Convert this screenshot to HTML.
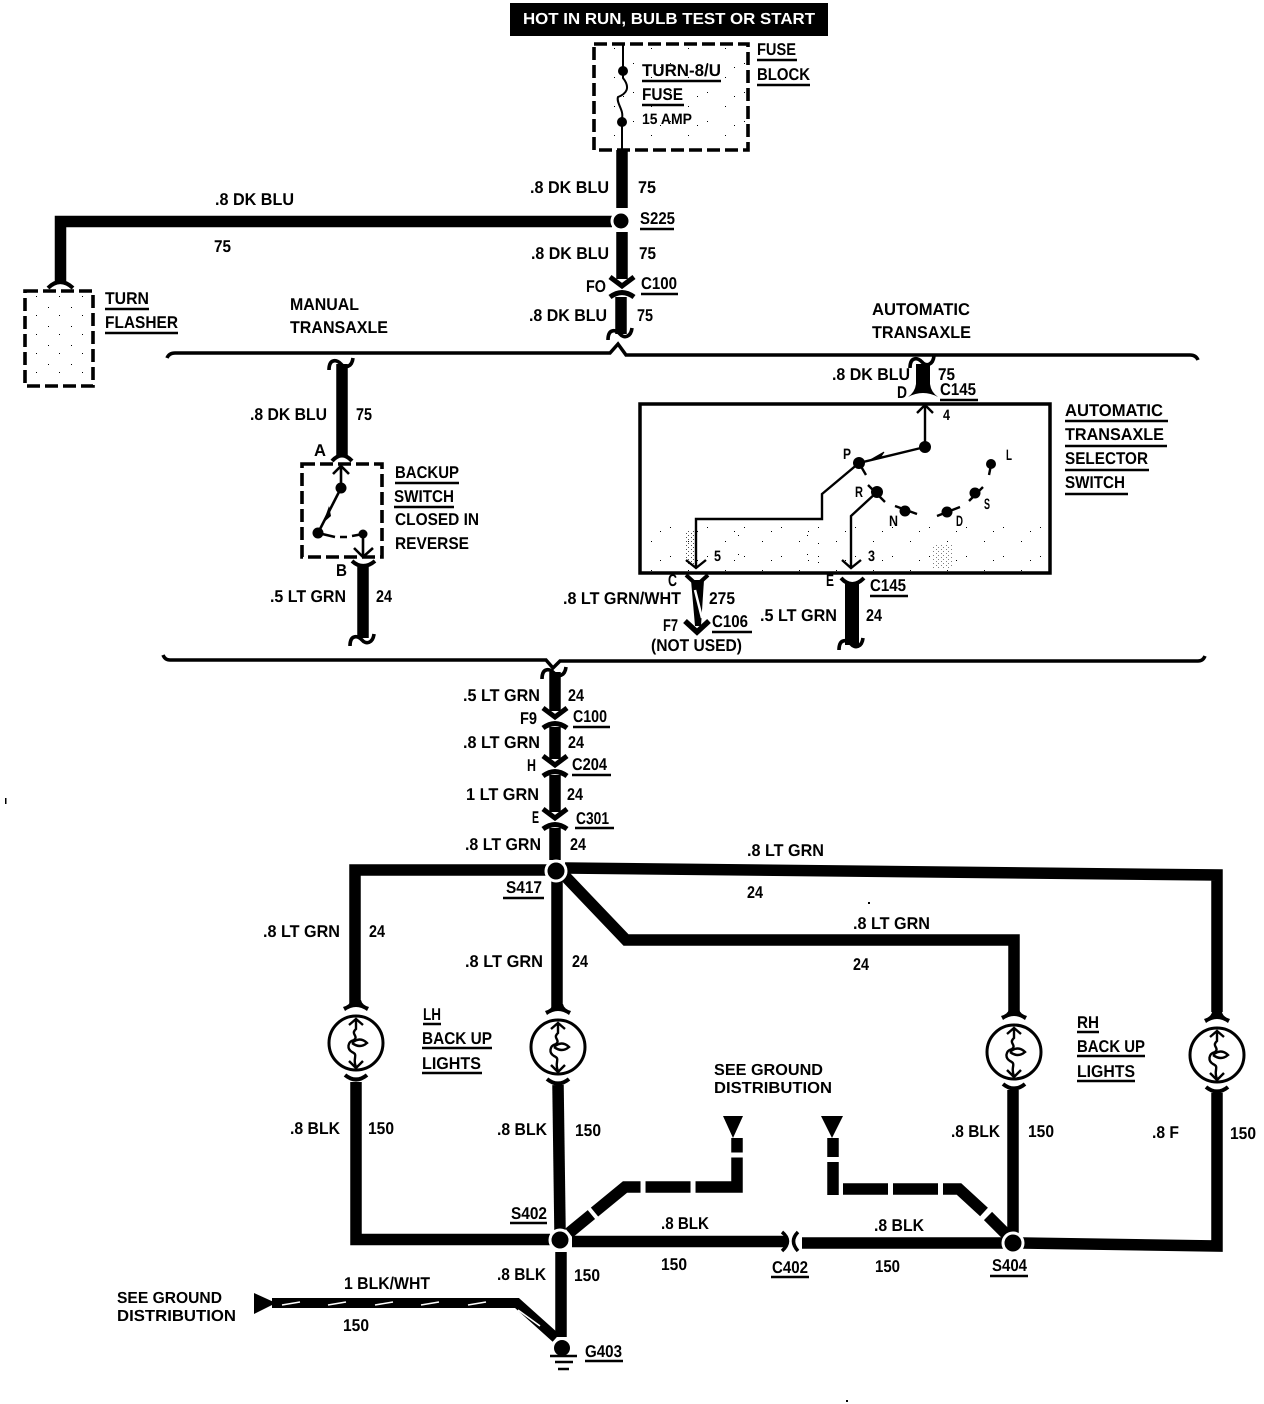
<!DOCTYPE html>
<html><head><meta charset="utf-8"><title>Back up lights wiring diagram</title>
<style>
html,body{margin:0;padding:0;background:#fff}
svg{display:block}
text{font-family:"Liberation Sans",sans-serif;font-weight:bold;font-size:17px;fill:#000}
.s{font-size:16px}
.n{font-size:15px}
</style></head><body>
<svg xmlns="http://www.w3.org/2000/svg" width="1264" height="1404" viewBox="0 0 1264 1404" text-rendering="geometricPrecision">
<defs>
<pattern id="st" width="23" height="19" patternUnits="userSpaceOnUse"><rect x="2" y="3" width="1" height="1" fill="#000"/><rect x="13" y="11" width="1" height="1" fill="#000"/></pattern>
<pattern id="sp" width="37" height="29" patternUnits="userSpaceOnUse"><rect x="4" y="5" width="1" height="1" fill="#000"/><rect x="22" y="19" width="1" height="1" fill="#000"/><rect x="31" y="9" width="1" height="1" fill="#000"/></pattern>
<pattern id="sd" width="5" height="4" patternUnits="userSpaceOnUse"><rect x="1" y="1" width="1" height="1" fill="#000"/><rect x="3" y="3" width="1" height="1" fill="#000"/></pattern>
<g id="j"><path d="M-12,-10 L0,-1 L12,-10" fill="none" stroke="#000" stroke-width="5"/><path d="M-12,10 Q0,1 12,10" fill="none" stroke="#000" stroke-width="5"/></g>
<path id="f" d="M-13,8 C-13,-3 -6,-3 -1,2 C3,7 10,5 11,-4" fill="none" stroke="#000" stroke-width="3.6"/>
<path id="ft" d="M-5,-43 Q-6,-38 -13,-36 L-11,-32 Q0,-40 11,-32 L13,-36 Q6,-38 5,-43 Z"/>
<path id="fb" d="M-11,32 Q0,41 11,32" fill="none" stroke="#000" stroke-width="4"/>
<g id="b"><circle r="27" fill="#fff" stroke="#000" stroke-width="3"/><path d="M0,-24 V-14 C-6,-9 3,-7 -2,-3 C-9,-1 -9,6 -4,9 C3,12 -4,15 0,24 M-7,-18 L0,-24 L7,-18 M-7,18 L0,25 L7,18 M-4,0 Q4,-7 11,0 Q4,6 -4,0" fill="none" stroke="#000" stroke-width="2.4"/></g>
</defs>
<rect width="1264" height="1404" fill="#fff"/>

<!-- header -->
<rect x="510" y="3" width="318" height="33" fill="#000"/>
<text x="523" y="24" textLength="292" lengthAdjust="spacingAndGlyphs" style="fill:#fff;font-size:16px">HOT IN RUN, BULB TEST OR START</text>

<!-- dashed boxes -->
<g fill="none" stroke="#000" stroke-width="3.6" stroke-dasharray="13 5">
<rect x="594" y="44" width="154" height="106"/>
<rect x="25" y="291" width="68" height="95"/>
<rect x="302" y="464" width="80" height="93"/>
</g>
<rect x="597" y="47" width="148" height="100" fill="url(#sp)"/>
<rect x="28" y="295" width="63" height="88" fill="url(#st)"/>

<!-- fuse -->
<path d="M623,44 V78 C631,88 626,94 618,97 C616,103 624,110 622,118 V152" fill="none" stroke="#000" stroke-width="2"/>
<circle cx="623" cy="71" r="5"/><circle cx="622" cy="122" r="5"/>

<!-- main heavy wires -->
<g fill="none" stroke="#000" stroke-width="11.5" stroke-linejoin="miter">
<path d="M622,150 V208"/>
<path d="M612,221.5 H60.5 V284"/>
<path d="M622,232 V279"/>
<path d="M621,297 V334"/>
<path d="M342,364 V456"/>
<path d="M363,566 V638"/>
<path d="M555,672 V711"/>
<path d="M555,727 V759"/>
<path d="M555,775 V812"/>
<path d="M555,828 V860"/>
<path d="M548,870 H355 V1006"/>
<path d="M565,868 L1217,875 V1012"/>
<path d="M557,880 V1010"/>
<path d="M563,874 L626,940 H1014 V1013"/>
<path d="M356,1082 V1239.5 H550"/>
<path d="M558,1085 L560,1230"/>
<path d="M572,1241.5 H786"/>
<path d="M802,1243 H1004"/>
<path d="M1013,1090 V1235"/>
<path d="M1022,1243 L1217,1246 V1093"/>
<path d="M561,1252 V1337"/>
</g>
<path d="M916,364 H930 V384 Q931,392 938,397 Q923,389 908,397 Q915,392 916,384 Z M845,584 H859 V645 H845 Z"/>
<path d="M691,580 H704 L701,626 H695 Z"/>
<path d="M695,590 L702,618" stroke="#fff" stroke-width="2.5"/>
<path d="M685,621 L697,632 L709,621" fill="none" stroke="#000" stroke-width="5.5"/>

<!-- dashed ground wires -->
<g fill="none" stroke="#000" stroke-width="11.5">
<path d="M569,1233 L625,1187 H737 V1138" stroke-dasharray="29 4 55 5 45 5 71 5 25"/>
<path d="M833,1138 V1157 M833,1162 V1195 M843,1189 H888 M893,1189 H938 M943,1189 H959 L984,1212 M988,1216 L1008,1236"/>
</g>
<path d="M723,1116 H743 L733,1138 Z M821,1116 H843 L832,1138 Z M254,1293 L276,1303 L254,1314 Z"/>

<!-- striped wire -->
<path d="M272,1303 H517 L556,1338" fill="none" stroke="#000" stroke-width="10"/>
<path d="M282,1305 L300,1302 M328,1305 L346,1302 M375,1305 L393,1302 M421,1305 L439,1302 M468,1305 L486,1302 M518,1310 L540,1326" stroke="#fff" stroke-width="1.6" fill="none"/>

<!-- nodes -->
<g stroke="#fff" stroke-width="3">
<circle cx="621" cy="221" r="9"/>
<circle cx="556" cy="871" r="10"/>
<circle cx="560" cy="1240" r="10"/>
<circle cx="1013" cy="1243" r="10"/>
</g>
<circle cx="562" cy="1348" r="8"/>
<path d="M550,1356 H577 M555,1362 H573 M558,1369 H569" stroke="#000" stroke-width="2.5"/>

<!-- brackets -->
<path d="M167,358 Q169,353 175,353 H610 L618,344 L626,355 H1190 Q1196,355 1198,360" fill="none" stroke="#000" stroke-width="3.5"/>
<path d="M163,655 Q165,660 170,660 H546 L553,668 L560,661 H1198 Q1203,661 1205,656" fill="none" stroke="#000" stroke-width="3.5"/>

<!-- connectors -->
<use href="#j" x="622" y="287"/>
<use href="#j" x="555" y="718"/>
<use href="#j" x="555" y="766"/>
<use href="#j" x="555" y="819"/>
<use href="#f" x="621" y="332"/>
<use href="#f" x="342" y="362"/>
<use href="#f" x="363" y="638"/>
<use href="#f" x="555" y="671"/>
<use href="#f" x="923" y="360"/>
<use href="#f" x="852" y="642"/>
<path d="M332,461 Q342,450 352,461 M352,561 Q363,571 375,561 M841,578 Q852,590 864,578 M686,575 L697,585 L708,575" fill="none" stroke="#000" stroke-width="4"/>
<path d="M48,288 Q60,276 73,288" fill="none" stroke="#000" stroke-width="4"/>
<path d="M782,1232 Q793,1241 782,1251 M798,1232 Q789,1241 798,1251" fill="none" stroke="#000" stroke-width="3.5"/>

<!-- bulbs -->
<use href="#b" x="356" y="1043"/><use href="#ft" x="356" y="1043"/><use href="#fb" x="356" y="1043"/>
<use href="#b" x="558" y="1047"/><use href="#ft" x="558" y="1047"/><use href="#fb" x="558" y="1047"/>
<use href="#b" x="1014" y="1052"/><use href="#ft" x="1014" y="1052"/><use href="#fb" x="1014" y="1052"/>
<use href="#b" x="1217" y="1055"/><use href="#ft" x="1217" y="1055"/><use href="#fb" x="1217" y="1055"/>

<!-- selector switch box -->
<rect x="640" y="404" width="410" height="169" fill="none" stroke="#000" stroke-width="3.5"/>
<rect x="642" y="520" width="406" height="51" fill="url(#sp)"/>
<rect x="684" y="530" width="10" height="35" fill="url(#sd)" opacity=".7"/>
<rect x="735" y="525" width="12" height="40" fill="url(#st)"/>
<rect x="800" y="535" width="30" height="32" fill="url(#st)"/>
<rect x="933" y="545" width="20" height="24" fill="url(#sd)" opacity=".5"/>
<g fill="none" stroke="#000" stroke-width="2.4">
<path d="M925,447 V405 M917,413 L925,405 L933,413"/>
<path d="M925,447 L859,463 L822,494 V519 H696 V568 M686,560 L696,568 L706,560"/>
<path d="M877,492 L851,516 V568 M842,560 L851,568 L861,560"/>
<path d="M868,485 L885,502 M895,506 L917,514 M937,516 L960,507 M969,501 L983,487 M991,465 L989,475 M859,463 L866,475"/>
</g>
<circle cx="925" cy="447" r="6"/><circle cx="859" cy="463" r="6"/><circle cx="877" cy="492" r="6"/><circle cx="905" cy="511" r="5.5"/><circle cx="947" cy="512" r="5.5"/><circle cx="975" cy="493" r="5.5"/><circle cx="991" cy="464" r="5"/>
<path d="M870,460 L884,452 L880,458 Z" stroke="#000"/>

<!-- backup switch -->
<g fill="none" stroke="#000" stroke-width="2.6">
<path d="M341,466 V488 M333,474 L341,466 L349,474"/>
<path d="M341,488 L318,533"/>
<path d="M318,533 L335,537 M340,537 H347 M352,536 L363,534 M363,534 V557 M354,548 L363,557 L373,548"/>
</g>
<circle cx="341" cy="488" r="5.5"/><circle cx="318" cy="533" r="5.5"/><circle cx="363" cy="534" r="4.5"/>
<path d="M329,506 L323,523 L331,516 Z"/>

<!-- underlines -->
<path stroke="#000" stroke-width="2.4" fill="none" d="M642,81 H721 M642,105 H684 M757,60 H797 M757,85 H810 M640,229 H674 M641,294 H678 M105,309 H149 M105,333 H178 M395,483 H459 M394,507 H454 M940,400 H978 M1065,421 H1168 M1065,446 H1167 M1065,470 H1149 M1065,494 H1128 M870,596 H908 M712,632 H752 M573,727 H610 M572,775 H611 M575,828 H614 M503,898 H544 M423,1024 H441 M422,1048 H492 M422,1073 H482 M1077,1032 H1099 M1077,1056 H1145 M1077,1081 H1135 M510,1223 H547 M771,1277 H809 M990,1276 H1028 M585,1361 H623"/>

<!-- labels -->
<g transform="translate(0,-1)">
<text x="642" y="77" textLength="79" lengthAdjust="spacingAndGlyphs">TURN-8/U</text>
<text x="642" y="101" textLength="41" lengthAdjust="spacingAndGlyphs">FUSE</text>
<text class="n" x="642" y="125" textLength="50" lengthAdjust="spacingAndGlyphs">15 AMP</text>
<text x="757" y="56" textLength="39" lengthAdjust="spacingAndGlyphs">FUSE</text>
<text x="757" y="81" textLength="53" lengthAdjust="spacingAndGlyphs">BLOCK</text>
<text x="530" y="194" textLength="79" lengthAdjust="spacingAndGlyphs">.8 DK BLU</text>
<text x="638" y="194" textLength="18" lengthAdjust="spacingAndGlyphs">75</text>
<text x="215" y="206" textLength="79" lengthAdjust="spacingAndGlyphs">.8 DK BLU</text>
<text x="214" y="253" textLength="17" lengthAdjust="spacingAndGlyphs">75</text>
<text x="640" y="225" textLength="35" lengthAdjust="spacingAndGlyphs">S225</text>
<text x="531" y="260" textLength="78" lengthAdjust="spacingAndGlyphs">.8 DK BLU</text>
<text x="639" y="260" textLength="17" lengthAdjust="spacingAndGlyphs">75</text>
<text x="586" y="293" textLength="20" lengthAdjust="spacingAndGlyphs">FO</text>
<text x="641" y="290" textLength="36" lengthAdjust="spacingAndGlyphs">C100</text>
<text x="529" y="322" textLength="78" lengthAdjust="spacingAndGlyphs">.8 DK BLU</text>
<text x="637" y="322" textLength="16" lengthAdjust="spacingAndGlyphs">75</text>
<text x="105" y="305" textLength="44" lengthAdjust="spacingAndGlyphs">TURN</text>
<text x="105" y="329" textLength="73" lengthAdjust="spacingAndGlyphs">FLASHER</text>
<text x="290" y="311" textLength="69" lengthAdjust="spacingAndGlyphs">MANUAL</text>
<text x="290" y="334" textLength="98" lengthAdjust="spacingAndGlyphs">TRANSAXLE</text>
<text x="872" y="316" textLength="98" lengthAdjust="spacingAndGlyphs">AUTOMATIC</text>
<text x="872" y="339" textLength="99" lengthAdjust="spacingAndGlyphs">TRANSAXLE</text>
<text x="250" y="421" textLength="77" lengthAdjust="spacingAndGlyphs">.8 DK BLU</text>
<text x="356" y="421" textLength="16" lengthAdjust="spacingAndGlyphs">75</text>
<text x="314" y="457" textLength="12" lengthAdjust="spacingAndGlyphs">A</text>
<text x="395" y="479" textLength="64" lengthAdjust="spacingAndGlyphs">BACKUP</text>
<text x="394" y="503" textLength="60" lengthAdjust="spacingAndGlyphs">SWITCH</text>
<text x="395" y="526" textLength="84" lengthAdjust="spacingAndGlyphs">CLOSED IN</text>
<text x="395" y="550" textLength="74" lengthAdjust="spacingAndGlyphs">REVERSE</text>
<text x="336" y="577" textLength="11" lengthAdjust="spacingAndGlyphs">B</text>
<text x="270" y="603" textLength="76" lengthAdjust="spacingAndGlyphs">.5 LT GRN</text>
<text x="376" y="603" textLength="16" lengthAdjust="spacingAndGlyphs">24</text>
<text x="832" y="381" textLength="78" lengthAdjust="spacingAndGlyphs">.8 DK BLU</text>
<text x="938" y="381" textLength="17" lengthAdjust="spacingAndGlyphs">75</text>
<text x="897" y="399" textLength="10" lengthAdjust="spacingAndGlyphs">D</text>
<text x="940" y="396" textLength="36" lengthAdjust="spacingAndGlyphs">C145</text>
<text class="n" x="943" y="421" textLength="7" lengthAdjust="spacingAndGlyphs">4</text>
<text class="n" x="843" y="460" textLength="8" lengthAdjust="spacingAndGlyphs">P</text>
<text class="n" x="855" y="498" textLength="8" lengthAdjust="spacingAndGlyphs">R</text>
<text class="n" x="889" y="527" textLength="9" lengthAdjust="spacingAndGlyphs">N</text>
<text class="n" x="956" y="527" textLength="7" lengthAdjust="spacingAndGlyphs">D</text>
<text class="n" x="984" y="510" textLength="6" lengthAdjust="spacingAndGlyphs">S</text>
<text class="n" x="1006" y="461" textLength="6" lengthAdjust="spacingAndGlyphs">L</text>
<text class="n" x="714" y="562" textLength="7" lengthAdjust="spacingAndGlyphs">5</text>
<text class="n" x="868" y="562" textLength="7" lengthAdjust="spacingAndGlyphs">3</text>
<text x="1065" y="417" textLength="98" lengthAdjust="spacingAndGlyphs">AUTOMATIC</text>
<text x="1065" y="441" textLength="99" lengthAdjust="spacingAndGlyphs">TRANSAXLE</text>
<text x="1065" y="465" textLength="83" lengthAdjust="spacingAndGlyphs">SELECTOR</text>
<text x="1065" y="489" textLength="60" lengthAdjust="spacingAndGlyphs">SWITCH</text>
<text x="668" y="587" textLength="9" lengthAdjust="spacingAndGlyphs">C</text>
<text x="826" y="587" textLength="8" lengthAdjust="spacingAndGlyphs">E</text>
<text x="870" y="592" textLength="36" lengthAdjust="spacingAndGlyphs">C145</text>
<text x="563" y="605" textLength="118" lengthAdjust="spacingAndGlyphs">.8 LT GRN/WHT</text>
<text x="709" y="605" textLength="26" lengthAdjust="spacingAndGlyphs">275</text>
<text x="663" y="632" textLength="15" lengthAdjust="spacingAndGlyphs">F7</text>
<text x="712" y="628" textLength="36" lengthAdjust="spacingAndGlyphs">C106</text>
<text x="651" y="652" textLength="91" lengthAdjust="spacingAndGlyphs">(NOT USED)</text>
<text x="760" y="622" textLength="77" lengthAdjust="spacingAndGlyphs">.5 LT GRN</text>
<text x="866" y="622" textLength="16" lengthAdjust="spacingAndGlyphs">24</text>
</g>
<g>
<text x="463" y="701" textLength="77" lengthAdjust="spacingAndGlyphs">.5 LT GRN</text>
<text x="568" y="701" textLength="16" lengthAdjust="spacingAndGlyphs">24</text>
<text x="520" y="724" textLength="17" lengthAdjust="spacingAndGlyphs">F9</text>
<text x="573" y="722" textLength="34" lengthAdjust="spacingAndGlyphs">C100</text>
<text x="463" y="748" textLength="77" lengthAdjust="spacingAndGlyphs">.8 LT GRN</text>
<text x="568" y="748" textLength="16" lengthAdjust="spacingAndGlyphs">24</text>
<text x="527" y="771" textLength="9" lengthAdjust="spacingAndGlyphs">H</text>
<text x="572" y="770" textLength="35" lengthAdjust="spacingAndGlyphs">C204</text>
<text x="466" y="800" textLength="73" lengthAdjust="spacingAndGlyphs">1 LT GRN</text>
<text x="567" y="800" textLength="16" lengthAdjust="spacingAndGlyphs">24</text>
<text x="532" y="823" textLength="7" lengthAdjust="spacingAndGlyphs">E</text>
<text x="576" y="824" textLength="33" lengthAdjust="spacingAndGlyphs">C301</text>
<text x="465" y="850" textLength="76" lengthAdjust="spacingAndGlyphs">.8 LT GRN</text>
<text x="570" y="850" textLength="16" lengthAdjust="spacingAndGlyphs">24</text>
<text x="506" y="893" textLength="36" lengthAdjust="spacingAndGlyphs">S417</text>
<text x="747" y="856" textLength="77" lengthAdjust="spacingAndGlyphs">.8 LT GRN</text>
<text x="747" y="898" textLength="16" lengthAdjust="spacingAndGlyphs">24</text>
<text x="853" y="929" textLength="77" lengthAdjust="spacingAndGlyphs">.8 LT GRN</text>
<text x="853" y="970" textLength="16" lengthAdjust="spacingAndGlyphs">24</text>
<text x="263" y="937" textLength="77" lengthAdjust="spacingAndGlyphs">.8 LT GRN</text>
<text x="369" y="937" textLength="16" lengthAdjust="spacingAndGlyphs">24</text>
<text x="465" y="967" textLength="78" lengthAdjust="spacingAndGlyphs">.8 LT GRN</text>
<text x="572" y="967" textLength="16" lengthAdjust="spacingAndGlyphs">24</text>

<text x="423" y="1020" textLength="18" lengthAdjust="spacingAndGlyphs">LH</text>
<text x="422" y="1044" textLength="70" lengthAdjust="spacingAndGlyphs">BACK UP</text>
<text x="422" y="1069" textLength="59" lengthAdjust="spacingAndGlyphs">LIGHTS</text>
<text x="1077" y="1028" textLength="22" lengthAdjust="spacingAndGlyphs">RH</text>
<text x="1077" y="1052" textLength="68" lengthAdjust="spacingAndGlyphs">BACK UP</text>
<text x="1077" y="1077" textLength="58" lengthAdjust="spacingAndGlyphs">LIGHTS</text>
<text class="s" x="714" y="1075" textLength="109" lengthAdjust="spacingAndGlyphs">SEE GROUND</text>
<text class="s" x="714" y="1093" textLength="118" lengthAdjust="spacingAndGlyphs">DISTRIBUTION</text>

<text x="290" y="1134" textLength="50" lengthAdjust="spacingAndGlyphs">.8 BLK</text>
<text x="368" y="1134" textLength="26" lengthAdjust="spacingAndGlyphs">150</text>
<text x="497" y="1135" textLength="50" lengthAdjust="spacingAndGlyphs">.8 BLK</text>
<text x="575" y="1136" textLength="26" lengthAdjust="spacingAndGlyphs">150</text>
<text x="951" y="1137" textLength="49" lengthAdjust="spacingAndGlyphs">.8 BLK</text>
<text x="1028" y="1137" textLength="26" lengthAdjust="spacingAndGlyphs">150</text>
<text x="1152" y="1138" textLength="27" lengthAdjust="spacingAndGlyphs">.8 F</text>
<text x="1230" y="1139" textLength="26" lengthAdjust="spacingAndGlyphs">150</text>
<text x="511" y="1219" textLength="36" lengthAdjust="spacingAndGlyphs">S402</text>
<text x="661" y="1229" textLength="48" lengthAdjust="spacingAndGlyphs">.8 BLK</text>
<text x="661" y="1270" textLength="26" lengthAdjust="spacingAndGlyphs">150</text>
<text x="772" y="1273" textLength="36" lengthAdjust="spacingAndGlyphs">C402</text>
<text x="874" y="1231" textLength="50" lengthAdjust="spacingAndGlyphs">.8 BLK</text>
<text x="875" y="1272" textLength="25" lengthAdjust="spacingAndGlyphs">150</text>
<text x="992" y="1271" textLength="35" lengthAdjust="spacingAndGlyphs">S404</text>
<text x="497" y="1280" textLength="49" lengthAdjust="spacingAndGlyphs">.8 BLK</text>
<text x="574" y="1281" textLength="26" lengthAdjust="spacingAndGlyphs">150</text>
<text x="344" y="1289" textLength="86" lengthAdjust="spacingAndGlyphs">1 BLK/WHT</text>
<text x="343" y="1331" textLength="26" lengthAdjust="spacingAndGlyphs">150</text>
<text class="s" x="117" y="1303" textLength="105" lengthAdjust="spacingAndGlyphs">SEE GROUND</text>
<text class="s" x="117" y="1321" textLength="119" lengthAdjust="spacingAndGlyphs">DISTRIBUTION</text>
<text x="585" y="1357" textLength="37" lengthAdjust="spacingAndGlyphs">G403</text>
</g>
<rect x="5" y="798" width="1.5" height="6"/>
<rect x="868" y="902" width="2" height="2"/>
<rect x="846" y="1400" width="2" height="2"/>
</svg>
</body></html>
